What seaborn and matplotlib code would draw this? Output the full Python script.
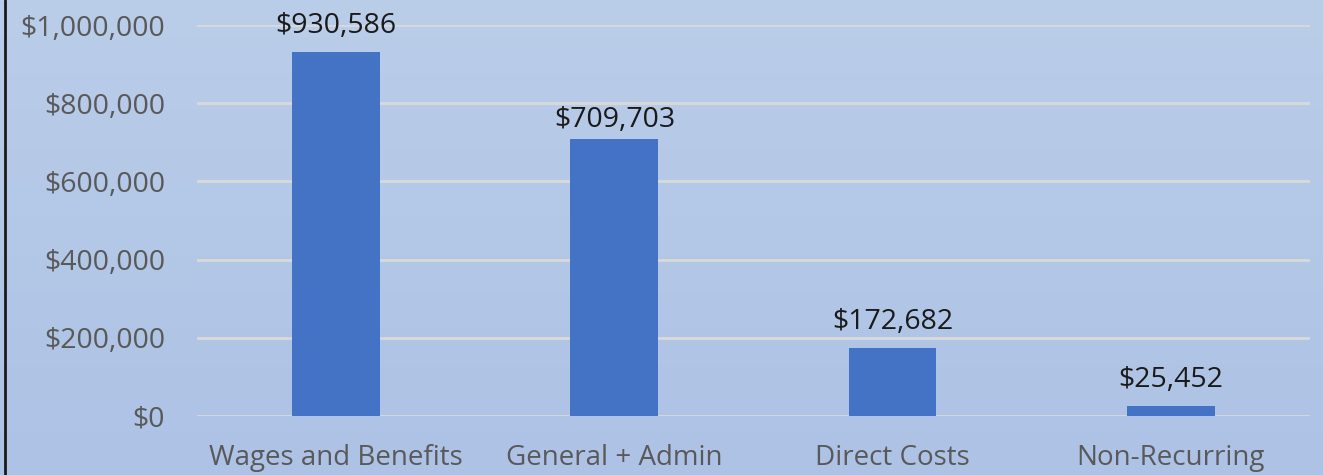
import numpy as np
import pandas as pd
import matplotlib
matplotlib.use("Agg")
import matplotlib.pyplot as plt
from matplotlib.lines import Line2D
from matplotlib.ticker import FuncFormatter
import seaborn as sns

categories = ["Wages and Benefits", "General + Admin", "Direct Costs", "Non-Recurring"]
values = [930586, 709703, 172682, 25452]
yticks = [0, 200000, 400000, 600000, 800000, 1000000]

sns.set_theme(style="white")
plt.rcParams['font.family'] = ['Open Sans', 'DejaVu Sans']

fig = plt.figure(figsize=(13.23, 4.75), dpi=100)

# gradient background
bg = fig.add_axes([0, 0, 1, 1], zorder=-10)
top = np.array([0xBA, 0xCD, 0xE9]) / 255
bot = np.array([0xAD, 0xC2, 0xE5]) / 255
t = np.linspace(0, 1, 256)[:, None]
grad = (top[None, :] * (1 - t) + bot[None, :] * t)[:, None, :]
bg.imshow(grad, aspect='auto', extent=[0, 1, 0, 1])
bg.axis('off')
fig.patch.set_facecolor(top)

ax = fig.add_axes([0.149, 0.1242, 0.841, 0.8231])
ax.patch.set_alpha(0)
df = pd.DataFrame({"category": categories, "value": values})
sns.barplot(data=df, x="category", y="value", color="#4472C4", saturation=1,
            width=0.316, ax=ax, zorder=3, linewidth=0, edgecolor="none")

ax.set_ylim(0, 1000000)
ax.set_xlim(-0.5, 3.5)
ax.set_yticks(yticks)
ax.yaxis.set_major_formatter(FuncFormatter(lambda v, p: f"${v:,.0f}"))
ax.grid(axis='y', color="#D9D9D9", linewidth=2, zorder=0)
ax.set_axisbelow(True)
for s in ax.spines.values():
    s.set_visible(False)
ax.tick_params(axis='y', length=0, pad=23, labelsize=20.5, labelcolor="#595959")
ax.tick_params(axis='x', length=0, pad=20, labelsize=20, labelcolor="#595959")
ax.set_xlabel("")
ax.set_ylabel("")

label_pads = [9, 3, 9, 9]
bars = ax.containers[0]
for rect, v, p in zip(bars, values, label_pads):
    ax.annotate(f"${v:,.0f}", (rect.get_x() + rect.get_width() / 2, rect.get_height()),
                xytext=(0, p), textcoords="offset points", ha="center", va="bottom",
                fontsize=20.5, color="#1a1a1a", annotation_clip=False)

fig.add_artist(Line2D([0.0035, 0.0035], [0, 1], transform=fig.transFigure,
                      color="#1a1a1a", linewidth=2))

fig.savefig("out.png", dpi=100)
